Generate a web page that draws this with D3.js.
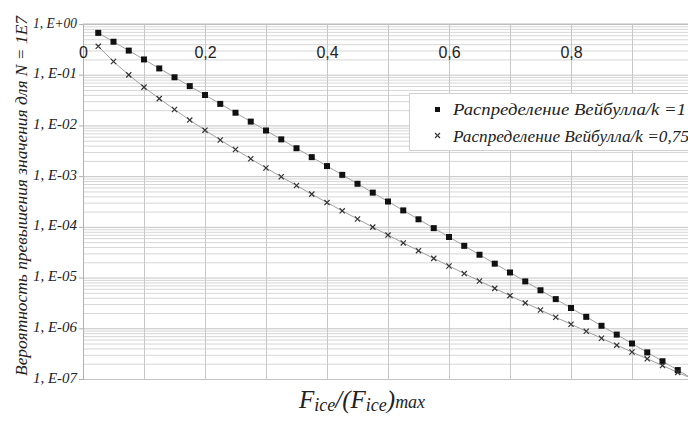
<!DOCTYPE html>
<html><head><meta charset="utf-8">
<script src="https://cdn.jsdelivr.net/npm/d3@7/dist/d3.min.js"></script>
<style>
html,body{margin:0;padding:0;background:#fff;}
svg{display:block;}
.serif{font-family:"Liberation Serif","DejaVu Serif","Times New Roman",serif;font-style:italic;}
.sans{font-family:"Liberation Sans",Arial,sans-serif;}
</style></head>
<body>
<svg id="chart" width="688" height="421"></svg>
<script>
// ---- data ----
const xValues = [0.025,0.05,0.075,0.1,0.125,0.15,0.175,0.2,0.225,0.25,0.275,0.3,0.325,0.35,0.375,0.4,0.425,0.45,0.475,0.5,0.525,0.55,0.575,0.6,0.625,0.65,0.675,0.7,0.725,0.75,0.775,0.8,0.825,0.85,0.875,0.9,0.925,0.95,0.975,1.0];
const weibullK1 = [0.668,0.447,0.299,0.2,0.133,0.0891,0.0596,0.0398,0.0266,0.0178,0.0119,0.00794,0.00531,0.00355,0.00237,0.00158,0.00106,7.08e-4,4.73e-4,3.16e-4,2.11e-4,1.41e-4,9.44e-5,6.31e-5,4.22e-5,2.82e-5,1.88e-5,1.26e-5,8.41e-6,5.62e-6,3.76e-6,2.51e-6,1.68e-6,1.12e-6,7.5e-7,5.01e-7,3.35e-7,2.24e-7,1.5e-7,1e-7];
const weibullK075 = [0.363,0.182,0.0993,0.0569,0.0338,0.0206,0.01276,0.00806,0.00516,0.00335,0.0022,0.00145,9.71e-4,6.53e-4,4.42e-4,3.01e-4,2.07e-4,1.43e-4,9.88e-5,6.89e-5,4.82e-5,3.39e-5,2.39e-5,1.69e-5,1.2e-5,8.57e-6,6.12e-6,4.4e-6,3.16e-6,2.29e-6,1.65e-6,1.2e-6,8.73e-7,6.37e-7,4.65e-7,3.4e-7,2.5e-7,1.84e-7,1.35e-7,1e-7];
const seriesNames = ["Распределение Вейбулла/k =1","Распределение Вейбулла/k =0,75"];
const xTickValues = [0,0.2,0.4,0.6,0.8];
const xTickLabels = ["0","0,2","0,4","0,6","0,8"];
const yTickValues = [1,1e-1,1e-2,1e-3,1e-4,1e-5,1e-6,1e-7];
const yTickLabels = ["1, E+00","1, E-01","1, E-02","1, E-03","1, E-04","1, E-05","1, E-06","1, E-07"];
const yTitle = "Вероятность превышения значения для N = 1E7";

(function(){
// ---- layout ----
const svg = d3.select("#chart");
const W = 688, H = 421;
const pLeft = 83, pTop = 24, pBottom = 379;
const x = d3.scaleLinear().domain([0,1]).range([pLeft, 693]);
const y = d3.scaleLog().domain([1,1e-7]).range([pTop, pBottom]);

svg.append("rect").attr("width",W).attr("height",H).attr("fill","#fff");

// minor + major horizontal grid (log)
const minorVals = [];
for (let e=-7; e<0; e++) for (let k=2;k<=9;k++) minorVals.push(k*Math.pow(10,e));
const gMinor = svg.append("g").attr("transform",`translate(${pLeft},0)`)
  .call(d3.axisLeft(y).tickValues(minorVals).tickSize(-(W-pLeft)).tickFormat(""));
gMinor.select(".domain").remove();
gMinor.selectAll("line").attr("stroke","#d6d6d6").attr("stroke-width",1);

const gMajor = svg.append("g").attr("transform",`translate(${pLeft},0)`)
  .call(d3.axisLeft(y).tickValues(yTickValues).tickSize(-(W-pLeft)).tickFormat(""));
gMajor.select(".domain").remove();
gMajor.selectAll("line").attr("stroke","#c4c4c4").attr("stroke-width",1);

// vertical grid
const gV = svg.append("g").attr("transform",`translate(0,${pBottom})`)
  .call(d3.axisBottom(x).tickValues(d3.range(1,10).map(i=>i/10)).tickSize(-(pBottom-pTop)).tickFormat(""));
gV.select(".domain").remove();
gV.selectAll("line").attr("stroke","#c8c8c8").attr("stroke-width",1);

// left axis line + y labels
const gY = svg.append("g").attr("transform",`translate(${pLeft},0)`)
  .call(d3.axisLeft(y).tickValues(yTickValues).tickSize(4).tickPadding(2)
    .tickFormat((d,i)=>yTickLabels[i]));
gY.attr("font-family",null).attr("font-size",null);
gY.select(".domain").attr("stroke","#b0b0b0");
gY.selectAll("line").attr("stroke","#b0b0b0");
gY.selectAll("text").attr("class","serif")
  .attr("font-size",15).attr("fill","#222").attr("dy","0.2em")
  .attr("textLength",44).attr("lengthAdjust","spacingAndGlyphs");

// top axis line
svg.append("line").attr("x1",pLeft).attr("x2",W).attr("y1",pTop).attr("y2",pTop).attr("stroke","#b8b8b8");

// x labels (top, inside)
const gX = svg.append("g").attr("transform",`translate(0,${pTop})`)
  .call(d3.axisBottom(x).tickValues(xTickValues).tickSize(0).tickPadding(0)
    .tickFormat((d,i)=>xTickLabels[i]));
gX.attr("font-family",null).attr("font-size",null);
gX.select(".domain").remove();
gX.selectAll("text").attr("class","sans").attr("font-size",16).attr("fill","#222")
  .attr("dy",null).attr("y",34);

// lines
const line = d3.line().x((d,i)=>x(xValues[i])).y(d=>y(d));
svg.append("path").datum(weibullK1).attr("d",line).attr("fill","none").attr("stroke","#a0a0a0").attr("stroke-width",1);
svg.append("path").datum(weibullK075).attr("d",line).attr("fill","none").attr("stroke","#a0a0a0").attr("stroke-width",1);

// markers
const sq = 6;
svg.append("g").selectAll("rect").data(weibullK1).join("rect")
  .attr("x",(d,i)=>x(xValues[i])-sq/2).attr("y",d=>y(d)-sq/2)
  .attr("width",sq).attr("height",sq).attr("fill","#111");
const cr = 2.6;
svg.append("g").selectAll("path").data(weibullK075).join("path")
  .attr("d",(d,i)=>{const cx=x(xValues[i]), cy=y(d);
    return `M${cx-cr},${cy-cr}L${cx+cr},${cy+cr}M${cx-cr},${cy+cr}L${cx+cr},${cy-cr}`;})
  .attr("stroke","#333").attr("stroke-width",1.2).attr("fill","none");

// legend
const lg = svg.append("g");
lg.append("rect").attr("x",409.5).attr("y",93.5).attr("width",290).attr("height",57)
  .attr("fill","#fff").attr("stroke","#d0d0d0");
lg.append("rect").attr("x",435).attr("y",107).attr("width",5).attr("height",5).attr("fill","#111");
lg.append("path").attr("d","M435,133L440,138M435,138L440,133").attr("stroke","#333").attr("stroke-width",1.1);
lg.selectAll("text").data(seriesNames).join("text")
  .attr("class","serif")
  .attr("x",453).attr("y",(d,i)=>115+i*27)
  .attr("font-size",17).attr("fill","#222")
  .attr("textLength",(d,i)=>i===0?233:236).attr("lengthAdjust","spacingAndGlyphs")
  .text(d=>d);

// y title
svg.append("text").attr("class","serif").attr("transform","translate(27,196) rotate(-90)")
  .attr("text-anchor","middle")
  .attr("font-size",17).attr("fill","#222").attr("textLength",360).attr("lengthAdjust","spacingAndGlyphs")
  .text(yTitle);

// x title
const xt = svg.append("text").attr("class","serif").attr("x",299).attr("y",408)
  .attr("fill","#222").attr("font-size",25);
xt.append("tspan").text("F");
xt.append("tspan").attr("font-size",18).attr("dy",3).text("ice");
xt.append("tspan").attr("dy",-3).text("/(F");
xt.append("tspan").attr("font-size",18).attr("dy",3).text("ice");
xt.append("tspan").attr("dy",-3).text(")");
xt.append("tspan").attr("font-size",18).attr("dy",0).text("max");
})();
</script>
</body></html>
